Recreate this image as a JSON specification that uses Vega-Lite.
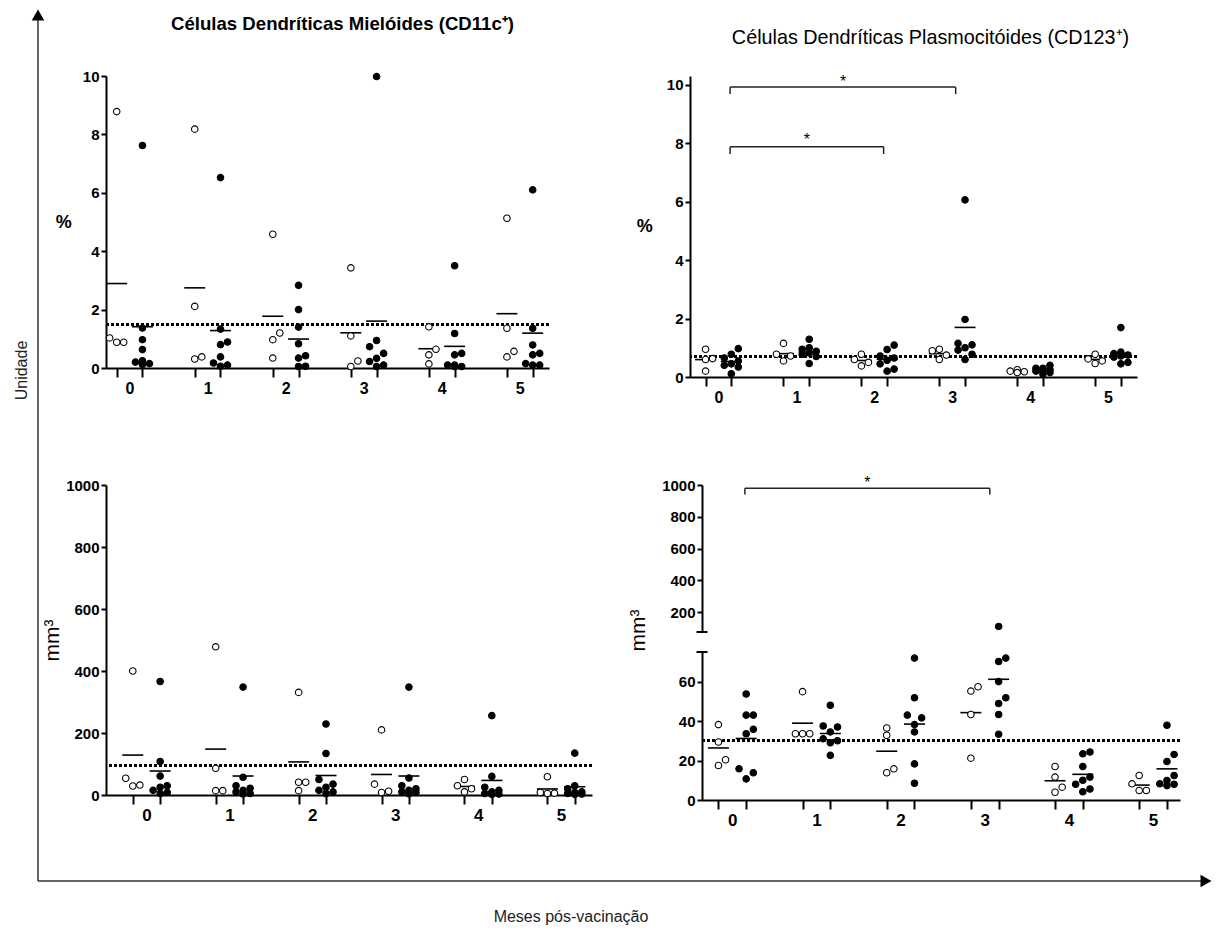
{
  "$schema": "https://vega.github.io/schema/vega-lite/v6.json",
  "background": "white",
  "padding": {"left": 14, "top": 9, "right": 0, "bottom": 0},
  "config": {
    "view": {"stroke": null},
    "font": "Liberation Sans",
    "axis": {
      "grid": false,
      "domainColor": "black",
      "domainWidth": 2,
      "tickColor": "black",
      "tickWidth": 2,
      "tickSize": 5,
      "tickCount": 20,
      "labelColor": "black",
      "labelFont": "Liberation Sans",
      "labelFontWeight": "bold",
      "labelFontSize": 15,
      "labelPadding": 2,
      "labelOverlap": false,
      "titleColor": "black",
      "titleFont": "Liberation Sans"
    },
    "title": {"color": "black", "font": "Liberation Sans"},
    "text": {"color": "black"}
  },
  "datasets": {
    "tl": [
      {"m": 0, "g": "A", "v": [8.78, 1.03, 0.88, 0.88]},
      {"m": 0, "g": "B", "v": [7.62, 1.37, 0.97, 0.63, 0.25, 0.2, 0.15, 0.12]},
      {"m": 1, "g": "A", "v": [8.18, 2.11, 0.38, 0.31]},
      {"m": 1, "g": "B", "v": [6.52, 1.33, 0.89, 0.8, 0.38, 0.17, 0.1, 0.06]},
      {"m": 2, "g": "A", "v": [4.58, 1.2, 0.97, 0.34]},
      {"m": 2, "g": "B", "v": [2.83, 2.0, 1.4, 0.83, 0.42, 0.34, 0.06, 0.05]},
      {"m": 3, "g": "A", "v": [3.43, 1.1, 0.24, 0.05]},
      {"m": 3, "g": "B", "v": [9.98, 0.94, 0.73, 0.5, 0.33, 0.22, 0.1, 0.05]},
      {"m": 4, "g": "A", "v": [1.41, 0.64, 0.45, 0.14]},
      {"m": 4, "g": "B", "v": [3.5, 1.18, 0.5, 0.45, 0.1, 0.1, 0.05, 0.05]},
      {"m": 5, "g": "A", "v": [5.13, 1.36, 0.57, 0.38]},
      {"m": 5, "g": "B", "v": [6.1, 1.36, 0.79, 0.5, 0.45, 0.15, 0.1, 0.1]}
    ],
    "tr": [
      {"m": 0, "g": "A", "v": [0.95, 0.63, 0.6, 0.2]},
      {"m": 0, "g": "B", "v": [0.97, 0.78, 0.65, 0.55, 0.45, 0.4, 0.34, 0.11]},
      {"m": 1, "g": "A", "v": [1.15, 0.78, 0.72, 0.55]},
      {"m": 1, "g": "B", "v": [1.29, 1.0, 0.95, 0.88, 0.82, 0.78, 0.7, 0.46]},
      {"m": 2, "g": "A", "v": [0.78, 0.6, 0.5, 0.38]},
      {"m": 2, "g": "B", "v": [1.09, 0.94, 0.72, 0.65, 0.57, 0.45, 0.27, 0.2]},
      {"m": 3, "g": "A", "v": [0.95, 0.9, 0.75, 0.6]},
      {"m": 3, "g": "B", "v": [6.06, 1.97, 1.15, 1.1, 1.0, 0.92, 0.78, 0.6]},
      {"m": 4, "g": "A", "v": [0.25, 0.2, 0.18, 0.15]},
      {"m": 4, "g": "B", "v": [0.4, 0.3, 0.3, 0.25, 0.2, 0.2, 0.15, 0.1]},
      {"m": 5, "g": "A", "v": [0.78, 0.62, 0.55, 0.46]},
      {"m": 5, "g": "B", "v": [1.69, 0.85, 0.8, 0.75, 0.72, 0.68, 0.5, 0.45]}
    ],
    "bl": [
      {"m": 0, "g": "A", "v": [400, 54, 32, 29]},
      {"m": 0, "g": "B", "v": [366, 108, 61, 30, 25, 15, 8, 5]},
      {"m": 1, "g": "A", "v": [478, 86, 14, 14]},
      {"m": 1, "g": "B", "v": [348, 57, 30, 22, 15, 10, 5, 3]},
      {"m": 2, "g": "A", "v": [331, 41, 41, 14]},
      {"m": 2, "g": "B", "v": [229, 134, 50, 35, 25, 15, 10, 5]},
      {"m": 3, "g": "A", "v": [210, 35, 12, 8]},
      {"m": 3, "g": "B", "v": [348, 55, 30, 20, 15, 10, 8, 4]},
      {"m": 4, "g": "A", "v": [50, 30, 20, 10]},
      {"m": 4, "g": "B", "v": [256, 60, 25, 15, 10, 5, 3, 2]},
      {"m": 5, "g": "A", "v": [59, 8, 6, 5]},
      {"m": 5, "g": "B", "v": [135, 30, 20, 10, 8, 5, 3, 2]}
    ],
    "br": [
      {"m": 0, "g": "A", "v": [38.2, 29.4, 20.4, 17.5]},
      {"m": 0, "g": "B", "v": [53.7, 43, 43, 35.8, 33.6, 15.8, 13.8, 10.7]},
      {"m": 1, "g": "A", "v": [54.9, 33.6, 33.6, 33.6]},
      {"m": 1, "g": "B", "v": [48, 37.5, 37, 34.5, 31, 30, 29, 22.6]},
      {"m": 2, "g": "A", "v": [36.5, 32.8, 15.8, 13.8]},
      {"m": 2, "g": "B", "v": [71.9, 51.8, 43, 41.6, 38.2, 34.5, 18.3, 8.5]},
      {"m": 3, "g": "A", "v": [57.4, 55.2, 43.3, 21.2]},
      {"m": 3, "g": "B", "v": [110, 71.9, 70.2, 60, 51.8, 48.9, 43.3, 33.3]},
      {"m": 4, "g": "A", "v": [17, 11.6, 6.5, 3.9]},
      {"m": 4, "g": "B", "v": [24.3, 23.4, 17, 11.6, 10, 8, 5.6, 4.2]},
      {"m": 5, "g": "A", "v": [12.4, 8.2, 4.8, 4.8]},
      {"m": 5, "g": "B", "v": [37.9, 23.1, 19.5, 12.4, 9.9, 8.2, 7.3, 8]}
    ]
  },
  "columns": 2,
  "bounds": "flush",
  "align": "each",
  "spacing": 0,
  "concat": [
    {
      "width": 68,
      "height": 61,
      "data": {"values": [{}]},
      "layer": [
        {
          "mark": {"type": "rule", "color": "#333", "strokeWidth": 1.5},
          "encoding": {
            "x": {"datum": 0, "type": "quantitative", "scale": {"domain": [0, 1], "nice": false, "zero": false}, "axis": null},
            "y": {"datum": 0, "type": "quantitative", "scale": {"domain": [0, 1], "nice": false, "zero": false}, "axis": null},
            "y2": {"datum": 1}
          }
        },
        {
          "mark": {"type": "point", "shape": "triangle-up", "filled": true, "size": 160, "color": "black", "opacity": 1},
          "encoding": {
            "x": {"datum": 0, "type": "quantitative", "axis": null},
            "y": {"datum": 1, "type": "quantitative", "axis": null}
          }
        }
      ]
    },
    {
      "width": 1,
      "height": 61,
      "data": {"values": [{}]},
      "mark": {"type": "rule", "opacity": 0},
      "encoding": {"x": {"datum": 0, "type": "quantitative", "axis": null}}
    },
    {
      "width": 68,
      "height": 805,
      "title": {"text": "Unidade", "orient": "left", "anchor": "middle", "offset": 7, "dx": 108, "fontSize": 16, "fontWeight": "normal", "font": "Liberation Sans Narrow, Liberation Sans", "color": "#222"},
      "data": {"values": [{}]},
      "mark": {"type": "rule", "color": "#333", "strokeWidth": 1.5},
      "encoding": {
        "x": {"datum": 0, "type": "quantitative", "scale": {"domain": [0, 1], "nice": false, "zero": false}, "axis": null},
        "y": {"datum": 0, "type": "quantitative", "scale": {"domain": [0, 1], "nice": false, "zero": false}, "axis": null},
        "y2": {"datum": 1}
      }
    },
    {
      "spacing": 70,
      "vconcat": [
        {
          "align": "each",
          "spacing": 85,
          "hconcat": [
            {
              "width": 443,
              "height": 292,
              "title": {"text": "Células Dendríticas Mielóides (CD11c⁺)", "frame": "group", "anchor": "middle", "dx": 15, "offset": 35, "fontSize": 18.6, "fontWeight": "bold"},
              "data": {"name": "tl"},
              "transform": [
                {"flatten": ["v"]},
                {"window": [{"op": "lag", "field": "v", "as": "pv"}], "groupby": ["m", "g"], "sort": [{"field": "v", "order": "ascending"}]},
                {"calculate": "isValid(datum.pv) && datum.v - datum.pv < 0.25 ? 0 : 1", "as": "brk"},
                {"window": [{"op": "sum", "field": "brk", "as": "run"}], "groupby": ["m", "g"], "sort": [{"field": "v", "order": "ascending"}], "frame": [null, 0]},
                {"window": [{"op": "row_number", "as": "k"}], "groupby": ["m", "g", "run"], "sort": [{"field": "v", "order": "ascending"}]},
                {"calculate": "datum.m + (datum.g == 'A' ? -0.165 : 0.165) + [0, 0.09, -0.09][(datum.k - 1) % 3]", "as": "x"}
              ],
              "resolve": {"axis": {"x": "independent"}},
              "layer": [
                {
                  "mark": {"type": "rule", "color": "black", "strokeWidth": 2.5, "strokeDash": [3, 2]},
                  "encoding": {"y": {"datum": 1.5, "type": "quantitative"}}
                },
                {
                  "transform": [
                    {"aggregate": [{"op": "mean", "field": "v", "as": "mv"}], "groupby": ["m", "g"]},
                    {"calculate": "datum.m + (datum.g == 'A' ? -0.165 : 0.165)", "as": "xc"}
                  ],
                  "mark": {"type": "tick", "orient": "horizontal", "size": 21, "thickness": 1.6, "color": "black", "opacity": 1},
                  "encoding": {
                    "x": {"field": "xc", "type": "quantitative", "axis": {"orient": "bottom", "values": [0, 1, 2, 3, 4, 5], "tickCount": 20, "format": "d", "ticks": false, "domain": false, "labelPadding": 12, "labelFontSize": 16, "labelFlush": false, "labelOverlap": false, "title": null}},
                    "y": {"field": "mv", "type": "quantitative"}
                  }
                },
                {
                  "mark": {"type": "circle", "size": 42, "stroke": "black", "strokeWidth": 1.1, "opacity": 1},
                  "encoding": {
                    "x": {
                      "field": "x", "type": "quantitative",
                      "scale": {"domain": [-0.302, 5.374], "nice": false, "zero": false},
                      "axis": {"orient": "bottom", "values": [-0.165, 0.165, 0.835, 1.165, 1.835, 2.165, 2.835, 3.165, 3.835, 4.165, 4.835, 5.165], "tickCount": 20, "labels": false, "tickSize": 9, "title": null}
                    },
                    "y": {
                      "field": "v", "type": "quantitative",
                      "scale": {"domain": [0, 10], "nice": false, "zero": false},
                      "axis": {"values": [0, 2, 4, 6, 8, 10], "tickCount": 20, "format": "d", "title": "%", "titleAngle": 0, "titleAlign": "right", "titleBaseline": "middle", "titleFontSize": 18, "titleFontWeight": "bold", "titlePadding": 11, "labelOverlap": false}
                    },
                    "fill": {"field": "g", "type": "nominal", "scale": {"domain": ["A", "B"], "range": ["white", "black"]}, "legend": null}
                  }
                }
              ]
            },
            {
              "width": 447,
              "height": 301,
              "title": {"text": "Células Dendríticas Plasmocitóides (CD123⁺)", "frame": "group", "anchor": "middle", "dx": 17, "offset": 26, "fontSize": 19.8, "fontWeight": "normal"},
              "data": {"name": "tr"},
              "transform": [
                {"flatten": ["v"]},
                {"window": [{"op": "lag", "field": "v", "as": "pv"}], "groupby": ["m", "g"], "sort": [{"field": "v", "order": "ascending"}]},
                {"calculate": "isValid(datum.pv) && datum.v - datum.pv < 0.25 ? 0 : 1", "as": "brk"},
                {"window": [{"op": "sum", "field": "brk", "as": "run"}], "groupby": ["m", "g"], "sort": [{"field": "v", "order": "ascending"}], "frame": [null, 0]},
                {"window": [{"op": "row_number", "as": "k"}], "groupby": ["m", "g", "run"], "sort": [{"field": "v", "order": "ascending"}]},
                {"calculate": "datum.m + (datum.g == 'A' ? -0.165 : 0.165) + [0, 0.09, -0.09][(datum.k - 1) % 3]", "as": "x"}
              ],
              "resolve": {"axis": {"x": "independent"}},
              "layer": [
                {
                  "mark": {"type": "rule", "color": "black", "strokeWidth": 2.5, "strokeDash": [3, 2]},
                  "encoding": {"y": {"datum": 0.7, "type": "quantitative"}}
                },
                {
                  "transform": [
                    {"aggregate": [{"op": "mean", "field": "v", "as": "mv"}], "groupby": ["m", "g"]},
                    {"calculate": "datum.m + (datum.g == 'A' ? -0.165 : 0.165)", "as": "xc"}
                  ],
                  "mark": {"type": "tick", "orient": "horizontal", "size": 21, "thickness": 1.6, "color": "black", "opacity": 1},
                  "encoding": {
                    "x": {"field": "xc", "type": "quantitative", "axis": {"orient": "bottom", "values": [0, 1, 2, 3, 4, 5], "tickCount": 20, "format": "d", "ticks": false, "domain": false, "labelPadding": 12, "labelFontSize": 16, "labelFlush": false, "labelOverlap": false, "title": null}},
                    "y": {"field": "mv", "type": "quantitative"}
                  }
                },
                {
                  "mark": {"type": "circle", "size": 42, "stroke": "black", "strokeWidth": 1.1, "opacity": 1},
                  "encoding": {
                    "x": {
                      "field": "x", "type": "quantitative",
                      "scale": {"domain": [-0.365, 5.372], "nice": false, "zero": false},
                      "axis": {"orient": "bottom", "values": [-0.165, 0.165, 0.835, 1.165, 1.835, 2.165, 2.835, 3.165, 3.835, 4.165, 4.835, 5.165], "tickCount": 20, "labels": false, "tickSize": 9, "title": null}
                    },
                    "y": {
                      "field": "v", "type": "quantitative",
                      "scale": {"domain": [0, 10.3], "nice": false, "zero": false},
                      "axis": {"values": [0, 2, 4, 6, 8, 10], "tickCount": 20, "format": "d", "title": "%", "titleAngle": 0, "titleAlign": "right", "titleBaseline": "middle", "titleFontSize": 18, "titleFontWeight": "bold", "titlePadding": 14, "labelOverlap": false}
                    },
                    "fill": {"field": "g", "type": "nominal", "scale": {"domain": ["A", "B"], "range": ["white", "black"]}, "legend": null}
                  }
                },
                {
                  "data": {"values": [
                    {"x1": 0.15, "x2": 3.045, "yl": 9.92},
                    {"x1": 0.15, "x2": 2.12, "yl": 7.88}
                  ]},
                  "mark": {"type": "rule", "color": "#222", "strokeWidth": 1.5},
                  "encoding": {
                    "x": {"field": "x1", "type": "quantitative", "axis": null},
                    "x2": {"field": "x2"},
                    "y": {"field": "yl", "type": "quantitative"}
                  }
                },
                {
                  "data": {"values": [
                    {"xe": 0.15, "yl": 9.92, "yf": 9.68},
                    {"xe": 3.045, "yl": 9.92, "yf": 9.68},
                    {"xe": 0.15, "yl": 7.88, "yf": 7.63},
                    {"xe": 2.12, "yl": 7.88, "yf": 7.63}
                  ]},
                  "mark": {"type": "rule", "color": "#222", "strokeWidth": 1.5},
                  "encoding": {
                    "x": {"field": "xe", "type": "quantitative", "axis": null},
                    "y": {"field": "yl", "type": "quantitative"},
                    "y2": {"field": "yf"}
                  }
                },
                {
                  "data": {"values": [
                    {"xm": 1.6, "ys": 10.09, "s": "*"},
                    {"xm": 1.135, "ys": 8.12, "s": "*"}
                  ]},
                  "mark": {"type": "text", "fontSize": 16, "baseline": "middle"},
                  "encoding": {
                    "x": {"field": "xm", "type": "quantitative", "axis": null},
                    "y": {"field": "ys", "type": "quantitative"},
                    "text": {"field": "s"}
                  }
                }
              ]
            }
          ]
        },
        {
          "align": "each",
          "spacing": 33,
          "hconcat": [
            {
              "width": 486,
              "height": 310,
              "data": {"name": "bl"},
              "transform": [
                {"flatten": ["v"]},
                {"window": [{"op": "lag", "field": "v", "as": "pv"}], "groupby": ["m", "g"], "sort": [{"field": "v", "order": "ascending"}]},
                {"calculate": "isValid(datum.pv) && datum.v - datum.pv < 24 ? 0 : 1", "as": "brk"},
                {"window": [{"op": "sum", "field": "brk", "as": "run"}], "groupby": ["m", "g"], "sort": [{"field": "v", "order": "ascending"}], "frame": [null, 0]},
                {"window": [{"op": "row_number", "as": "k"}], "groupby": ["m", "g", "run"], "sort": [{"field": "v", "order": "ascending"}]},
                {"calculate": "datum.m + (datum.g == 'A' ? -0.165 : 0.165) + [0, 0.085, -0.085][(datum.k - 1) % 3]", "as": "x"}
              ],
              "resolve": {"axis": {"x": "independent"}},
              "layer": [
                {
                  "mark": {"type": "rule", "color": "black", "strokeWidth": 2.5, "strokeDash": [3, 2]},
                  "encoding": {"y": {"datum": 95, "type": "quantitative"}}
                },
                {
                  "transform": [
                    {"aggregate": [{"op": "mean", "field": "v", "as": "mv"}], "groupby": ["m", "g"]},
                    {"calculate": "datum.m + (datum.g == 'A' ? -0.165 : 0.165)", "as": "xc"}
                  ],
                  "mark": {"type": "tick", "orient": "horizontal", "size": 21, "thickness": 1.6, "color": "black", "opacity": 1},
                  "encoding": {
                    "x": {"field": "xc", "type": "quantitative", "axis": {"orient": "bottom", "values": [0, 1, 2, 3, 4, 5], "tickCount": 20, "format": "d", "ticks": false, "domain": false, "labelPadding": 12, "labelFontSize": 17, "labelFlush": false, "labelOverlap": false, "title": null}},
                    "y": {"field": "mv", "type": "quantitative"}
                  }
                },
                {
                  "mark": {"type": "circle", "size": 42, "stroke": "black", "strokeWidth": 1.1, "opacity": 1},
                  "encoding": {
                    "x": {
                      "field": "x", "type": "quantitative",
                      "scale": {"domain": [-0.488, 5.373], "nice": false, "zero": false},
                      "axis": {"orient": "bottom", "values": [-0.165, 0.165, 0.835, 1.165, 1.835, 2.165, 2.835, 3.165, 3.835, 4.165, 4.835, 5.165], "tickCount": 20, "labels": false, "tickSize": 9, "title": null}
                    },
                    "y": {
                      "field": "v", "type": "quantitative",
                      "scale": {"domain": [0, 1000], "nice": false, "zero": false},
                      "axis": {"values": [0, 200, 400, 600, 800, 1000], "tickCount": 20, "format": "d", "title": "mm³", "titleFontSize": 21, "titleFontWeight": "normal", "titlePadding": 3, "labelOverlap": false}
                    },
                    "fill": {"field": "g", "type": "nominal", "scale": {"domain": ["A", "B"], "range": ["white", "black"]}, "legend": null}
                  }
                }
              ]
            },
            {
              "bounds": "flush",
              "spacing": 20,
              "vconcat": [
                {
                  "width": 478,
                  "height": 147,
                  "data": {"name": "br"},
                  "transform": [
                    {"flatten": ["v"]},
                    {"calculate": "datum.m + (datum.g == 'A' ? -0.165 : 0.165)", "as": "x"}
                  ],
                  "layer": [
                    {
                      "transform": [{"filter": "datum.v > 75"}],
                      "mark": {"type": "circle", "size": 42, "stroke": "black", "strokeWidth": 1.1, "opacity": 1},
                      "encoding": {
                        "x": {"field": "x", "type": "quantitative", "scale": {"domain": [-0.36, 5.32], "nice": false, "zero": false}, "axis": null},
                        "y": {
                          "field": "v", "type": "quantitative",
                          "scale": {"domain": [75, 1000], "nice": false, "zero": false},
                          "axis": {"values": [200, 400, 600, 800, 1000], "tickCount": 20, "format": "d", "title": "mm³", "titleFontSize": 21, "titleFontWeight": "normal", "titlePadding": 13, "titleY": 145, "labelOverlap": false}
                        },
                        "fill": {"field": "g", "type": "nominal", "scale": {"domain": ["A", "B"], "range": ["white", "black"]}, "legend": null}
                      }
                    },
                    {
                      "data": {"values": [{"x1": 0.15, "x2": 3.06, "yl": 980}]},
                      "mark": {"type": "rule", "color": "#222", "strokeWidth": 1.5},
                      "encoding": {
                        "x": {"field": "x1", "type": "quantitative", "axis": null},
                        "x2": {"field": "x2"},
                        "y": {"field": "yl", "type": "quantitative"}
                      }
                    },
                    {
                      "data": {"values": [{"xe": 0.15, "yl": 980, "yf": 940}, {"xe": 3.06, "yl": 980, "yf": 940}]},
                      "mark": {"type": "rule", "color": "#222", "strokeWidth": 1.5},
                      "encoding": {
                        "x": {"field": "xe", "type": "quantitative", "axis": null},
                        "y": {"field": "yl", "type": "quantitative"},
                        "y2": {"field": "yf"}
                      }
                    },
                    {
                      "data": {"values": [{"xm": 1.605, "ys": 1012, "s": "*"}]},
                      "mark": {"type": "text", "fontSize": 16, "baseline": "middle"},
                      "encoding": {
                        "x": {"field": "xm", "type": "quantitative", "axis": null},
                        "y": {"field": "ys", "type": "quantitative"},
                        "text": {"field": "s"}
                      }
                    },
                    {
                      "data": {"values": [{}]},
                      "mark": {"type": "tick", "orient": "horizontal", "size": 11, "thickness": 2, "color": "black", "opacity": 1},
                      "encoding": {
                        "x": {"datum": -0.36, "type": "quantitative", "axis": null},
                        "y": {"datum": 75, "type": "quantitative"}
                      }
                    }
                  ]
                },
                {
                  "width": 478,
                  "height": 148,
                  "data": {"name": "br"},
                  "transform": [
                    {"flatten": ["v"]},
                    {"window": [{"op": "lag", "field": "v", "as": "pv"}], "groupby": ["m", "g"], "sort": [{"field": "v", "order": "ascending"}]},
                    {"calculate": "isValid(datum.pv) && datum.v - datum.pv < 3.7 ? 0 : 1", "as": "brk"},
                    {"window": [{"op": "sum", "field": "brk", "as": "run"}], "groupby": ["m", "g"], "sort": [{"field": "v", "order": "ascending"}], "frame": [null, 0]},
                    {"window": [{"op": "row_number", "as": "k"}], "groupby": ["m", "g", "run"], "sort": [{"field": "v", "order": "ascending"}]},
                    {"calculate": "datum.m + (datum.g == 'A' ? -0.165 : 0.165) + [0, 0.085, -0.085][(datum.k - 1) % 3]", "as": "x"}
                  ],
                  "resolve": {"axis": {"x": "independent"}},
                  "layer": [
                    {
                      "mark": {"type": "rule", "color": "black", "strokeWidth": 2.5, "strokeDash": [3, 2]},
                      "encoding": {"y": {"datum": 30, "type": "quantitative"}}
                    },
                    {
                      "transform": [
                        {"aggregate": [{"op": "mean", "field": "v", "as": "mv"}], "groupby": ["m", "g"]},
                        {"calculate": "datum.m + (datum.g == 'A' ? -0.165 : 0.165)", "as": "xc"}
                      ],
                      "mark": {"type": "tick", "orient": "horizontal", "size": 21, "thickness": 1.6, "color": "black", "opacity": 1},
                      "encoding": {
                        "x": {"field": "xc", "type": "quantitative", "axis": {"orient": "bottom", "values": [0, 1, 2, 3, 4, 5], "tickCount": 20, "format": "d", "ticks": false, "domain": false, "labelPadding": 12, "labelFontSize": 17, "labelFlush": false, "labelOverlap": false, "title": null}},
                        "y": {"field": "mv", "type": "quantitative"}
                      }
                    },
                    {
                      "transform": [{"filter": "datum.v <= 75"}],
                      "mark": {"type": "circle", "size": 42, "stroke": "black", "strokeWidth": 1.1, "opacity": 1},
                      "encoding": {
                        "x": {
                          "field": "x", "type": "quantitative",
                          "scale": {"domain": [-0.36, 5.32], "nice": false, "zero": false},
                          "axis": {"orient": "bottom", "values": [-0.165, 0.165, 0.835, 1.165, 1.835, 2.165, 2.835, 3.165, 3.835, 4.165, 4.835, 5.165], "tickCount": 20, "labels": false, "tickSize": 9, "title": null}
                        },
                        "y": {
                          "field": "v", "type": "quantitative",
                          "scale": {"domain": [0, 75], "nice": false, "zero": false},
                          "axis": {"values": [0, 20, 40, 60], "tickCount": 20, "format": "d", "title": null, "labelOverlap": false}
                        },
                        "fill": {"field": "g", "type": "nominal", "scale": {"domain": ["A", "B"], "range": ["white", "black"]}, "legend": null}
                      }
                    },
                    {
                      "data": {"values": [{}]},
                      "mark": {"type": "tick", "orient": "horizontal", "size": 11, "thickness": 2, "color": "black", "opacity": 1},
                      "encoding": {
                        "x": {"datum": -0.36, "type": "quantitative", "axis": null},
                        "y": {"datum": 75, "type": "quantitative"}
                      }
                    }
                  ]
                }
              ]
            }
          ]
        }
      ]
    },
    {
      "width": 68,
      "height": 1,
      "data": {"values": [{}]},
      "mark": {"type": "rule", "color": "#333", "strokeWidth": 1.5},
      "encoding": {
        "x": {"datum": 0, "type": "quantitative", "scale": {"domain": [0, 1], "nice": false, "zero": false}, "axis": null},
        "x2": {"datum": 1},
        "y": {"datum": 1, "type": "quantitative", "scale": {"domain": [0, 1], "nice": false, "zero": false}, "axis": null}
      }
    },
    {
      "width": 1100,
      "height": 1,
      "title": {"text": "Meses pós-vacinação", "orient": "bottom", "anchor": "middle", "frame": "group", "offset": 22, "dx": -85, "fontSize": 16, "fontWeight": "normal", "font": "Liberation Sans Narrow, Liberation Sans", "color": "#222"},
      "data": {"values": [{}]},
      "layer": [
        {
          "mark": {"type": "rule", "color": "#333", "strokeWidth": 1.5},
          "encoding": {
            "x": {"datum": 0, "type": "quantitative", "scale": {"domain": [0, 1], "nice": false, "zero": false}, "axis": null},
            "x2": {"datum": 1},
            "y": {"datum": 1, "type": "quantitative", "scale": {"domain": [0, 1], "nice": false, "zero": false}, "axis": null}
          }
        },
        {
          "mark": {"type": "point", "shape": "triangle-right", "filled": true, "size": 160, "color": "black", "opacity": 1},
          "encoding": {
            "x": {"datum": 1, "type": "quantitative", "axis": null},
            "y": {"datum": 1, "type": "quantitative", "axis": null}
          }
        }
      ]
    }
  ]
}
